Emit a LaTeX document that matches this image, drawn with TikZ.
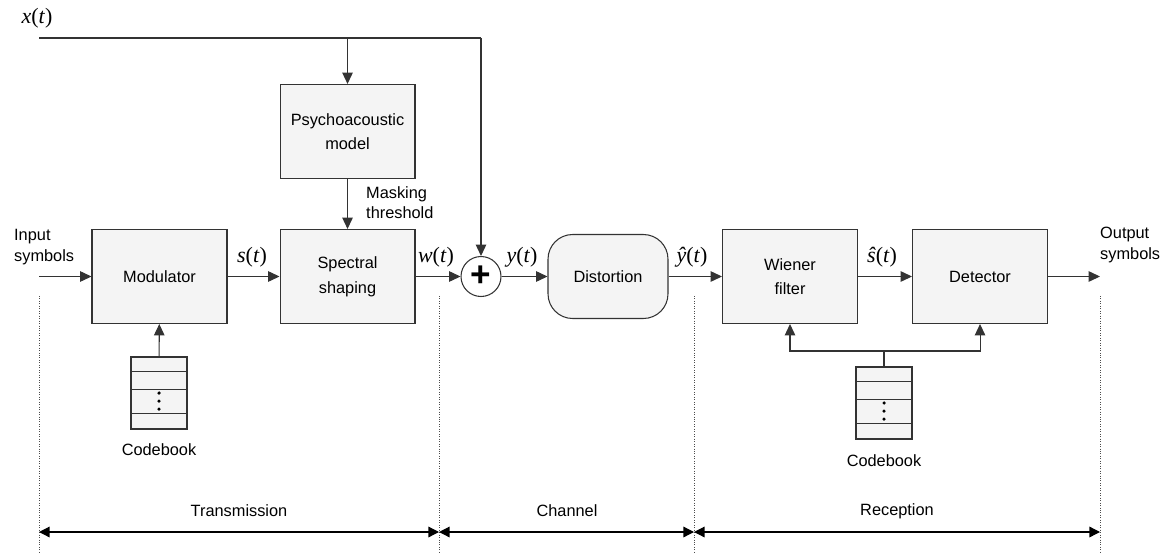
\documentclass[tikz,border=0pt]{standalone}
\usepackage{fontspec}
\setmainfont{Liberation Sans}
\newfontfamily\tmsfont{Liberation Serif}
\usepackage{tikz}
\usetikzlibrary{arrows.meta,positioning,calc}
\definecolor{boxfill}{HTML}{F4F4F4}
\definecolor{linegray}{HTML}{333333}
\newcommand{\sigl}[1]{{\tmsfont\fontsize{12.5}{14}\selectfont\textit{#1}(\textit{t})}}

\begin{document}
\begin{tikzpicture}[
  x=0.02cm, y=-0.02cm,
  every node/.style={font=\fontsize{9.3}{11.5}\selectfont},
  block/.style={
    draw=linegray, fill=boxfill, line width=0.6pt, minimum width=2.7cm,
    minimum height=1.88cm, align=center, font=\fontsize{9.3}{14}\selectfont,
  },
  sum/.style={draw=linegray, fill=white, circle, minimum size=0.8cm, inner sep=0pt, line width=0.6pt},
  book/.style={draw=linegray, fill=boxfill, minimum width=1.12cm, minimum height=1.44cm, inner sep=0pt, line width=0.6pt},
  wire/.style={line width=0.6pt, draw=linegray},
  arrow/.style={-{Triangle[length=6.5pt,width=6pt]}, line width=0.6pt, draw=linegray},
  span/.style={{Triangle[length=6pt,width=6pt]}-{Triangle[length=6pt,width=6pt]}, line width=0.7pt},
  sep/.style={densely dotted, line width=0.4pt, draw=black!70},
]
\useasboundingbox (0,0) rectangle (1165,554);

% blocks
\node[block] (mod) at (159.5,276.5) {Modulator};
\node[block, right=1.04cm of mod] (spec) {Spectral\\shaping};
\node[block, above=1cm of spec] (psy) {Psychoacoustic\\model};
\node[sum] (add) at (481,276.5) {\fontsize{20}{20}\selectfont\bfseries +};
\node[block, rounded corners=14pt, minimum width=2.4cm, minimum height=1.68cm] (dist) at (608,276.5) {Distortion};
\node[block] (wf) at (790,276.5) {Wiener\\filter};
\node[block, right=1.08cm of wf] (det) {Detector};

% codebooks
\node[book] (cbl) at (159,393) {};
\node[book] (cbr) at (884,403) {};
\foreach \cb in {cbl,cbr}{
  \foreach \f in {0.21,0.45,0.78}
    \draw[wire] ($(\cb.north west)!\f!(\cb.south west)$) -- ($(\cb.north east)!\f!(\cb.south east)$);
  \foreach \f in {0.5,0.61,0.72}
    \fill ($(\cb.north)!\f!(\cb.south)$) circle (1pt);
}
\node (cbllab) at (159,450) {Codebook};
\node (cbrlab) at (884,461) {Codebook};

% x(t) feed
\coordinate (xin) at (39,38);
\coordinate (xtap) at (psy.north |- xin);
\coordinate (xcorner) at (add.north |- xin);
\node (xlab) at (37,18) {\sigl{x}};
\draw[wire] (xin) -- (xcorner);
\draw[arrow] (xcorner) -- (add.north);
\draw[arrow] (xtap) -- (psy.north);
\draw[arrow] (psy) -- (spec);
\node[anchor=west, align=left] (mask) at (360,203) {Masking\\threshold};

% signal chain
\coordinate (in) at (39,276.5);
\coordinate (out) at (1100,276.5);
\node[anchor=west, align=left] (inlab) at (8,247) {Input\\symbols};
\node[anchor=west, align=left] (outlab) at (1094,245) {Output\\symbols};
\draw[arrow] (in) -- (mod);
\draw[arrow] (mod) -- (spec);
\draw[arrow] (spec) -- (add);
\draw[arrow] (add) -- (dist);
\draw[arrow] (dist) -- (wf);
\draw[arrow] (wf) -- (det);
\draw[arrow] (det) -- (out);
\node (slab) at (252,257) {\sigl{s}};
\node (wlab) at (436,257) {\sigl{w}};
\node (ylab) at (522,257) {\sigl{y}};
\node (yhlab) at (692,257) {\sigl{ŷ}};
\node (shlab) at (882,257) {\sigl{ŝ}};

% codebook links
\draw[arrow] (cbl) -- (mod);
\coordinate (split) at (884,351);
\draw[wire] (cbr) -- (split);
\draw[arrow] (split) -| (wf.south);
\draw[arrow] (split) -| (det.south);

% stages
\foreach \n/\x in {d0/39, d1/439, d2/694, d3/1100}{
  \coordinate (\n) at (\x,532);
  \draw[sep] (\x,296) -- (\x,554);
}
\draw[span] (d0) -- (d1);
\draw[span] (d1) -- (d2);
\draw[span] (d2) -- (d3);
\node (txlab) at (239,511) {Transmission};
\node (chlab) at (567,511) {Channel};
\node (rxlab) at (897,511) {Reception};

\end{tikzpicture}
\end{document}
